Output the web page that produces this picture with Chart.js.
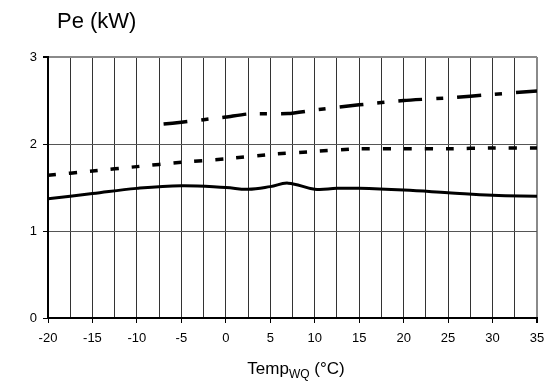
<!DOCTYPE html>
<html>
<head>
<meta charset="utf-8">
<script src="https://cdn.jsdelivr.net/npm/chart.js@4"></script>
<style>
  html,body{margin:0;padding:0;background:#fff;}
  #wrap{position:relative;width:554px;height:385px;font-family:"Liberation Sans",Arial,sans-serif;color:#000;}
  canvas{position:absolute;left:0;top:0;}
  #title{position:absolute;left:57px;top:8px;font-size:22px;white-space:nowrap;}
  #xtitle{position:absolute;left:0;width:554px;padding-left:38px;box-sizing:border-box;text-align:center;top:359px;font-size:17px;white-space:nowrap;}
  #xtitle sub{font-size:12px;vertical-align:-4px;line-height:0;}
</style>
</head>
<body>
<div id="wrap">
  <canvas id="c" width="554" height="385"></canvas>
  <div id="title">Pe (kW)</div>
  <div id="xtitle">Temp<sub>WQ</sub> (°C)</div>
</div>
<script>
// ---- data ----
const xTickLabels = [-20, -15, -10, -5, 0, 5, 10, 15, 20, 25, 30, 35];
const yTickLabels = [0, 1, 2, 3];

const solidX = [-20, -15, -10, -5, 0, 2.5, 5, 7, 10, 12.5, 15, 20, 25, 30, 35];
const solidY = [1.37, 1.43, 1.49, 1.52, 1.50, 1.48, 1.51, 1.55, 1.48, 1.49, 1.49, 1.47, 1.44, 1.41, 1.40];

const dottedX = [-20, -15, -10, -5, 0, 5, 10, 15, 20, 25, 30, 35];
const dottedY = [1.64, 1.69, 1.74, 1.79, 1.83, 1.88, 1.915, 1.945, 1.945, 1.945, 1.955, 1.955];

const dashX = [-7, -5, 0, 2.5, 7, 10, 15, 20, 25, 30, 35];
const dashY = [2.23, 2.25, 2.31, 2.345, 2.35, 2.39, 2.45, 2.50, 2.53, 2.57, 2.61];

const pts = (xs, ys) => xs.map((x, i) => ({x: x, y: ys[i]}));

const font = {family: '"Liberation Sans", Arial, sans-serif', size: 13};

new Chart(document.getElementById('c'), {
  type: 'line',
  data: {
    datasets: [
      {data: pts(dashX, dashY), borderColor: '#000', borderWidth: 3.5, borderDash: [24, 14, 7, 14], borderCapStyle: 'butt', tension: 0.2, pointRadius: 0, fill: false},
      {data: pts(dottedX, dottedY), borderColor: '#000', borderWidth: 3.5, borderDash: [8, 13], borderCapStyle: 'butt', tension: 0.2, pointRadius: 0, fill: false},
      {data: pts(solidX, solidY), borderColor: '#000', borderWidth: 3, tension: 0.4, pointRadius: 0, fill: false}
    ]
  },
  options: {
    responsive: false,
    animation: false,
    events: [],
    layout: {padding: {left: 0, right: 17, top: 57, bottom: 0}},
    plugins: {legend: {display: false}, tooltip: {enabled: false}, title: {display: false}},
    scales: {
      x: {
        type: 'linear', min: -20, max: 35,
        afterFit: s => { s.height = 67; },
        border: {display: true, color: '#000', width: 2},
        grid: {
          color: c => c.tick && c.tick.value === 35 ? '#8a8a8a' : '#333',
          lineWidth: c => c.tick && c.tick.value === 35 ? 2 : 1,
          tickColor: c => c.tick && xTickLabels.includes(c.tick.value) ? '#000' : 'rgba(0,0,0,0)',
          tickLength: 5,
          drawOnChartArea: true
        },
        ticks: {
          stepSize: 2.5, autoSkip: false, maxRotation: 0, color: '#000', font: font, padding: 8,
          callback: v => xTickLabels.includes(v) ? String(v) : ''
        }
      },
      y: {
        min: 0, max: 3,
        afterFit: s => { s.width = 48; },
        border: {display: true, color: '#000', width: 2},
        grid: {
          color: c => c.tick && c.tick.value === 3 ? '#8a8a8a' : '#555',
          lineWidth: c => c.tick && c.tick.value === 3 ? 2 : 1,
          tickColor: '#000',
          tickLength: 5
        },
        ticks: {
          stepSize: 1, color: '#000', font: font, padding: 6,
          callback: v => yTickLabels.includes(v) ? String(v) : ''
        }
      }
    }
  }
});
</script>
</body>
</html>
